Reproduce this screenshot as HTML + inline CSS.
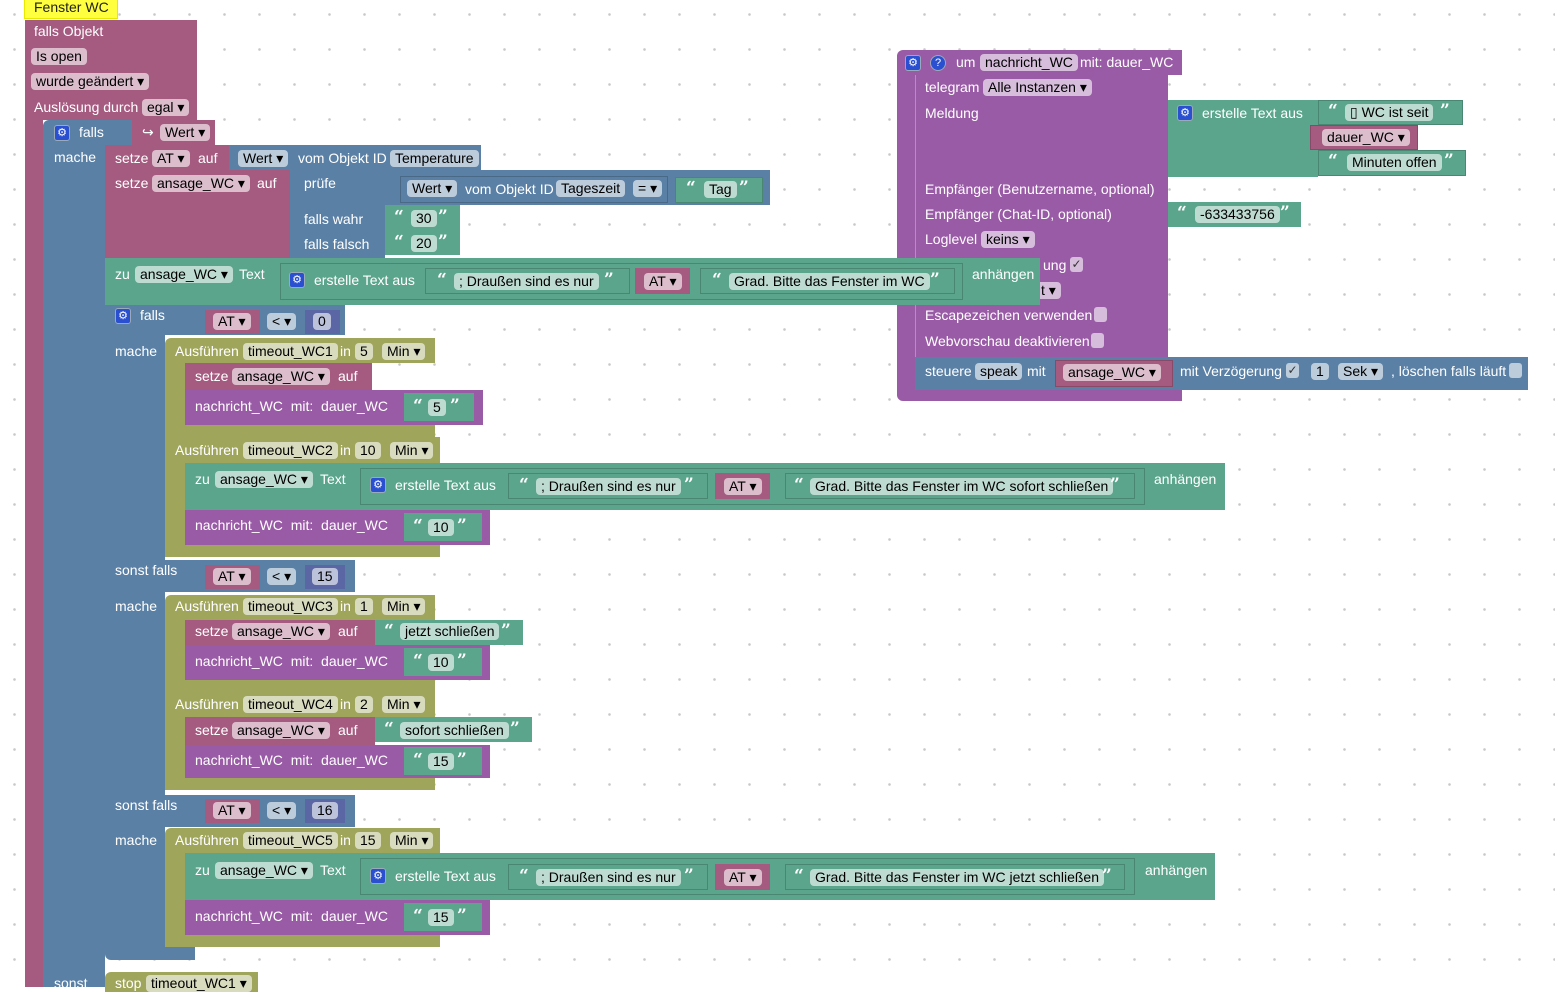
<!DOCTYPE html>
<html><head><meta charset="utf-8"><style>
body{margin:0;width:1555px;height:987px;overflow:hidden;background:#fff;background-image:radial-gradient(circle,#c8c8c8 1px,transparent 1.6px);background-size:35px 35px;background-position:-3px -3px;font-family:"Liberation Sans",sans-serif;position:relative}
.b{position:absolute}
.P{background:#a55b80}.B{background:#5b80a5}.G{background:#5ba58c}.O{background:#a0a55c}.V{background:#995ba5}.N{background:#5b67a5}
.in{box-shadow:inset 0 0 0 1px rgba(0,0,0,.18)}
.t{position:absolute;color:#fff;font-size:14px;line-height:18px;white-space:nowrap}
.f{position:absolute;color:#000;font-size:14px;line-height:17px;height:17px;padding:0 5px;border-radius:4px;white-space:nowrap;background:rgba(255,255,255,.6)}
.q{position:absolute;color:#fff;font-size:17px;font-weight:bold;line-height:18px;font-family:"DejaVu Serif",serif}
.gear{position:absolute;width:14px;height:14px;border-radius:3px;background:#2a4fd0;color:#fff;font-size:11px;line-height:14px;text-align:center;border:1px solid #9ab}
.cb{position:absolute;width:13px;height:15px;border-radius:3px;background:rgba(255,255,255,.6);color:#333;font-size:12px;line-height:15px;text-align:center}
</style></head><body>

<!-- Procedure -->
<div class="b V" style="left:897px;top:50px;width:285px;height:25px;border-radius:6px 0 0 0"></div>
<div class="b V" style="left:897px;top:75px;width:18px;height:325px;border-radius:0 0 0 6px"></div>
<div class="b V" style="left:897px;top:390px;width:285px;height:11px;border-radius:0 0 0 6px"></div>
<span class="gear" style="left:905px;top:55px">⚙</span>
<span class="gear" style="left:930px;top:55px;border-radius:50%">?</span>
<span class="t" style="left:956px;top:53px">um</span>
<span class="f" style="left:980px;top:54px">nachricht_WC</span>
<span class="t" style="left:1080px;top:53px">mit: dauer_WC</span>
<div class="b V" style="left:915px;top:75px;width:253px;height:285px;box-shadow:inset 1px 0 0 rgba(255,255,255,.3)"></div>
<span class="t" style="left:925px;top:78px">telegram</span>
<span class="f" style="left:983px;top:79px">Alle Instanzen ▾</span>
<span class="t" style="left:925px;top:104px">Meldung</span>
<span class="t" style="left:925px;top:180px">Empfänger (Benutzername, optional)</span>
<span class="t" style="left:925px;top:205px">Empfänger (Chat-ID, optional)</span>
<span class="t" style="left:925px;top:230px">Loglevel</span>
<span class="f" style="left:981px;top:231px">keins ▾</span>
<span class="t" style="left:1043px;top:256px">ung</span><span class="cb" style="left:1070px;top:257px">✓</span>
<span class="f" style="left:1036px;top:282px">t ▾</span>
<span class="t" style="left:925px;top:306px">Escapezeichen verwenden</span><span class="cb" style="left:1094px;top:307px"></span>
<span class="t" style="left:925px;top:332px">Webvorschau deaktivieren</span><span class="cb" style="left:1091px;top:333px"></span>
<div class="b G" style="left:1168px;top:100px;width:150px;height:77px"></div>
<span class="gear" style="left:1177px;top:105px">⚙</span>
<span class="t" style="left:1202px;top:104px">erstelle Text aus</span>
<div class="b G in" style="left:1318px;top:100px;width:145px;height:25px"></div>
<span class="q" style="left:1328px;top:102px">“</span><span class="f" style="left:1345px;top:104px">▯ WC ist seit</span><span class="q" style="left:1440px;top:102px">”</span>
<div class="b P in" style="left:1310px;top:125px;width:108px;height:25px"></div>
<span class="f" style="left:1322px;top:129px">dauer_WC ▾</span>
<div class="b G in" style="left:1318px;top:150px;width:148px;height:26px"></div>
<span class="q" style="left:1328px;top:152px">“</span><span class="f" style="left:1347px;top:154px">Minuten offen</span><span class="q" style="left:1444px;top:152px">”</span>
<div class="b G" style="left:1168px;top:202px;width:133px;height:25px"></div>
<span class="q" style="left:1177px;top:204px">“</span><span class="f" style="left:1195px;top:206px">-633433756</span><span class="q" style="left:1280px;top:204px">”</span>
<div class="b B" style="left:915px;top:357px;width:613px;height:33px"></div>
<span class="t" style="left:925px;top:362px">steuere</span>
<span class="f" style="left:975px;top:363px">speak</span>
<span class="t" style="left:1027px;top:362px">mit</span>
<div class="b P in" style="left:1055px;top:360px;width:118px;height:27px"></div>
<span class="f" style="left:1063px;top:364px">ansage_WC ▾</span>
<span class="t" style="left:1180px;top:362px">mit Verzögerung</span><span class="cb" style="left:1286px;top:363px">✓</span>
<span class="f" style="left:1311px;top:363px">1</span>
<span class="f" style="left:1338px;top:363px">Sek ▾</span>
<span class="t" style="left:1391px;top:362px">, löschen falls läuft</span><span class="cb" style="left:1509px;top:363px"></span>

<!-- Event block -->
<div class="b" style="left:25px;top:0;width:92px;height:18px;background:#ffff40;box-shadow:0 0 0 1px #e8e800"></div>
<span class="t" style="left:34px;top:-2px;color:#222">Fenster WC</span>
<div class="b P" style="left:25px;top:20px;width:172px;height:100px"></div>
<div class="b P" style="left:25px;top:120px;width:18px;height:867px"></div>
<span class="t" style="left:34px;top:22px">falls Objekt</span>
<span class="f" style="left:31px;top:48px">Is open</span>
<span class="f" style="left:31px;top:73px">wurde geändert ▾</span>
<span class="t" style="left:34px;top:98px">Auslösung durch</span>
<span class="f" style="left:142px;top:99px">egal ▾</span>

<!-- Outer if -->
<div class="b B" style="left:43px;top:120px;width:89px;height:25px;border-radius:6px 0 0 0"></div>
<div class="b B" style="left:43px;top:145px;width:62px;height:842px"></div>
<span class="gear" style="left:54px;top:125px">⚙</span>
<span class="t" style="left:79px;top:123px">falls</span>
<div class="b P" style="left:132px;top:120px;width:83px;height:25px"></div>
<span class="t" style="left:142px;top:123px">↪</span>
<span class="f" style="left:160px;top:124px">Wert ▾</span>
<span class="t" style="left:54px;top:148px">mache</span>

<div class="b P" style="left:105px;top:145px;width:130px;height:25px"></div>
<span class="t" style="left:115px;top:149px">setze</span><span class="f" style="left:152px;top:150px">AT ▾</span><span class="t" style="left:198px;top:149px">auf</span>
<div class="b B" style="left:229px;top:145px;width:252px;height:25px"></div>
<span class="f" style="left:238px;top:150px">Wert ▾</span><span class="t" style="left:298px;top:149px">vom Objekt ID</span><span class="f" style="left:390px;top:150px">Temperature</span>

<div class="b P" style="left:105px;top:170px;width:185px;height:88px"></div>
<span class="t" style="left:115px;top:174px">setze</span><span class="f" style="left:152px;top:175px">ansage_WC ▾</span><span class="t" style="left:257px;top:174px">auf</span>
<div class="b B" style="left:290px;top:170px;width:95px;height:88px"></div>
<span class="t" style="left:304px;top:174px">prüfe</span>
<span class="t" style="left:304px;top:210px">falls wahr</span>
<span class="t" style="left:304px;top:235px">falls falsch</span>
<div class="b B" style="left:385px;top:170px;width:385px;height:35px"></div>
<div class="b B in" style="left:400px;top:176px;width:268px;height:27px"></div>
<span class="f" style="left:407px;top:180px">Wert ▾</span><span class="t" style="left:465px;top:180px">vom Objekt ID</span><span class="f" style="left:556px;top:180px">Tageszeit</span><span class="f" style="left:633px;top:180px">= ▾</span>
<div class="b G in" style="left:675px;top:177px;width:88px;height:26px"></div>
<span class="q" style="left:686px;top:179px">“</span><span class="f" style="left:704px;top:181px">Tag</span><span class="q" style="left:739px;top:179px">”</span>
<div class="b G" style="left:385px;top:205px;width:75px;height:25px"></div>
<span class="q" style="left:394px;top:208px">“</span><span class="f" style="left:411px;top:210px">30</span><span class="q" style="left:438px;top:208px">”</span>
<div class="b G" style="left:385px;top:230px;width:75px;height:25px"></div>
<span class="q" style="left:394px;top:233px">“</span><span class="f" style="left:411px;top:235px">20</span><span class="q" style="left:438px;top:233px">”</span>

<div class="b G" style="left:105px;top:258px;width:935px;height:47px"></div>
<span class="t" style="left:115px;top:265px">zu</span><span class="f" style="left:135px;top:266px">ansage_WC ▾</span><span class="t" style="left:239px;top:265px">Text</span>
<div class="b G in" style="left:280px;top:263px;width:683px;height:37px"></div>
<span class="gear" style="left:289px;top:272px">⚙</span><span class="t" style="left:314px;top:271px">erstelle Text aus</span>
<div class="b G in" style="left:425px;top:268px;width:205px;height:26px"></div>
<span class="q" style="left:437px;top:271px">“</span><span class="f" style="left:454px;top:273px">; Draußen sind es nur</span><span class="q" style="left:604px;top:271px">”</span>
<div class="b P" style="left:635px;top:268px;width:55px;height:26px"></div><span class="f" style="left:644px;top:273px">AT ▾</span>
<div class="b G in" style="left:700px;top:268px;width:255px;height:26px"></div>
<span class="q" style="left:712px;top:271px">“</span><span class="f" style="left:729px;top:273px">Grad. Bitte das Fenster im WC</span><span class="q" style="left:930px;top:271px">”</span>
<span class="t" style="left:972px;top:265px">anhängen</span>

<!-- nested if -->
<div class="b B" style="left:105px;top:305px;width:240px;height:30px"></div>
<div class="b B" style="left:105px;top:335px;width:60px;height:612px"></div>
<div class="b B" style="left:105px;top:947px;width:90px;height:13px;border-radius:0 0 0 6px"></div>
<span class="gear" style="left:115px;top:308px">⚙</span><span class="t" style="left:140px;top:306px">falls</span>
<div class="b P" style="left:205px;top:310px;width:55px;height:24px"></div><span class="f" style="left:213px;top:313px">AT ▾</span>
<span class="f" style="left:267px;top:313px">&lt; ▾</span>
<div class="b N" style="left:305px;top:310px;width:35px;height:24px"></div><span class="f" style="left:313px;top:313px">0</span>
<span class="t" style="left:115px;top:342px">mache</span>

<!-- Ausf1 -->
<div class="b O" style="left:165px;top:338px;width:270px;height:25px;border-radius:6px 0 0 0"></div>
<div class="b O" style="left:165px;top:363px;width:20px;height:62px"></div>
<div class="b O" style="left:165px;top:425px;width:270px;height:13px"></div>
<span class="t" style="left:175px;top:342px">Ausführen</span><span class="f" style="left:243px;top:343px">timeout_WC1</span><span class="t" style="left:340px;top:342px">in</span><span class="f" style="left:355px;top:343px">5</span><span class="f" style="left:382px;top:343px">Min ▾</span>
<div class="b P" style="left:185px;top:363px;width:187px;height:27px"></div>
<span class="t" style="left:195px;top:367px">setze</span><span class="f" style="left:232px;top:368px">ansage_WC ▾</span><span class="t" style="left:338px;top:367px">auf</span>
<div class="b V" style="left:185px;top:390px;width:298px;height:35px"></div>
<span class="t" style="left:195px;top:397px">nachricht_WC&nbsp; mit:&nbsp; dauer_WC</span>
<div class="b G" style="left:404px;top:393px;width:70px;height:28px"></div>
<span class="q" style="left:413px;top:397px">“</span><span class="f" style="left:428px;top:399px">5</span><span class="q" style="left:450px;top:397px">”</span>

<!-- Ausf2 -->
<div class="b O" style="left:165px;top:437px;width:275px;height:26px"></div>
<div class="b O" style="left:165px;top:463px;width:20px;height:82px"></div>
<div class="b O" style="left:165px;top:545px;width:275px;height:12px"></div>
<span class="t" style="left:175px;top:441px">Ausführen</span><span class="f" style="left:243px;top:442px">timeout_WC2</span><span class="t" style="left:340px;top:441px">in</span><span class="f" style="left:355px;top:442px">10</span><span class="f" style="left:390px;top:442px">Min ▾</span>
<div class="b G" style="left:185px;top:463px;width:1040px;height:47px"></div>
<span class="t" style="left:195px;top:470px">zu</span><span class="f" style="left:215px;top:471px">ansage_WC ▾</span><span class="t" style="left:320px;top:470px">Text</span>
<div class="b G in" style="left:360px;top:468px;width:785px;height:37px"></div>
<span class="gear" style="left:370px;top:477px">⚙</span><span class="t" style="left:395px;top:476px">erstelle Text aus</span>
<div class="b G in" style="left:508px;top:473px;width:200px;height:26px"></div>
<span class="q" style="left:519px;top:476px">“</span><span class="f" style="left:536px;top:478px">; Draußen sind es nur</span><span class="q" style="left:684px;top:476px">”</span>
<div class="b P" style="left:715px;top:473px;width:55px;height:26px"></div><span class="f" style="left:724px;top:478px">AT ▾</span>
<div class="b G in" style="left:785px;top:473px;width:350px;height:26px"></div>
<span class="q" style="left:794px;top:476px">“</span><span class="f" style="left:810px;top:478px">Grad. Bitte das Fenster im WC sofort schließen</span><span class="q" style="left:1110px;top:476px">”</span>
<span class="t" style="left:1154px;top:470px">anhängen</span>
<div class="b V" style="left:185px;top:510px;width:305px;height:35px"></div>
<span class="t" style="left:195px;top:516px">nachricht_WC&nbsp; mit:&nbsp; dauer_WC</span>
<div class="b G" style="left:404px;top:513px;width:78px;height:28px"></div>
<span class="q" style="left:413px;top:517px">“</span><span class="f" style="left:428px;top:519px">10</span><span class="q" style="left:457px;top:517px">”</span>

<!-- sonst falls 1 -->
<div class="b B" style="left:105px;top:560px;width:250px;height:32px"></div>
<span class="t" style="left:115px;top:561px">sonst falls</span>
<div class="b P" style="left:205px;top:565px;width:55px;height:24px"></div><span class="f" style="left:213px;top:568px">AT ▾</span>
<span class="f" style="left:267px;top:568px">&lt; ▾</span>
<div class="b N" style="left:305px;top:565px;width:40px;height:24px"></div><span class="f" style="left:312px;top:568px">15</span>
<span class="t" style="left:115px;top:597px">mache</span>

<!-- Ausf3 -->
<div class="b O" style="left:165px;top:595px;width:270px;height:25px;border-radius:6px 0 0 0"></div>
<div class="b O" style="left:165px;top:620px;width:20px;height:60px"></div>
<div class="b O" style="left:165px;top:680px;width:270px;height:12px"></div>
<span class="t" style="left:175px;top:597px">Ausführen</span><span class="f" style="left:243px;top:598px">timeout_WC3</span><span class="t" style="left:340px;top:597px">in</span><span class="f" style="left:355px;top:598px">1</span><span class="f" style="left:382px;top:598px">Min ▾</span>
<div class="b P" style="left:185px;top:620px;width:190px;height:25px"></div>
<span class="t" style="left:195px;top:622px">setze</span><span class="f" style="left:232px;top:623px">ansage_WC ▾</span><span class="t" style="left:338px;top:622px">auf</span>
<div class="b G" style="left:375px;top:620px;width:148px;height:25px"></div>
<span class="q" style="left:384px;top:622px">“</span><span class="f" style="left:400px;top:623px">jetzt schließen</span><span class="q" style="left:501px;top:622px">”</span>
<div class="b V" style="left:185px;top:645px;width:305px;height:35px"></div>
<span class="t" style="left:195px;top:652px">nachricht_WC&nbsp; mit:&nbsp; dauer_WC</span>
<div class="b G" style="left:404px;top:648px;width:78px;height:28px"></div>
<span class="q" style="left:413px;top:652px">“</span><span class="f" style="left:428px;top:654px">10</span><span class="q" style="left:457px;top:652px">”</span>

<!-- Ausf4 -->
<div class="b O" style="left:165px;top:692px;width:270px;height:25px"></div>
<div class="b O" style="left:165px;top:717px;width:20px;height:61px"></div>
<div class="b O" style="left:165px;top:778px;width:270px;height:12px"></div>
<span class="t" style="left:175px;top:695px">Ausführen</span><span class="f" style="left:243px;top:696px">timeout_WC4</span><span class="t" style="left:340px;top:695px">in</span><span class="f" style="left:355px;top:696px">2</span><span class="f" style="left:382px;top:696px">Min ▾</span>
<div class="b P" style="left:185px;top:717px;width:190px;height:28px"></div>
<span class="t" style="left:195px;top:721px">setze</span><span class="f" style="left:232px;top:722px">ansage_WC ▾</span><span class="t" style="left:338px;top:721px">auf</span>
<div class="b G" style="left:375px;top:717px;width:157px;height:25px"></div>
<span class="q" style="left:384px;top:720px">“</span><span class="f" style="left:400px;top:722px">sofort schließen</span><span class="q" style="left:510px;top:720px">”</span>
<div class="b V" style="left:185px;top:745px;width:305px;height:33px"></div>
<span class="t" style="left:195px;top:751px">nachricht_WC&nbsp; mit:&nbsp; dauer_WC</span>
<div class="b G" style="left:404px;top:747px;width:78px;height:28px"></div>
<span class="q" style="left:413px;top:751px">“</span><span class="f" style="left:428px;top:753px">15</span><span class="q" style="left:457px;top:751px">”</span>

<!-- sonst falls 2 -->
<div class="b B" style="left:105px;top:795px;width:250px;height:32px"></div>
<span class="t" style="left:115px;top:796px">sonst falls</span>
<div class="b P" style="left:205px;top:799px;width:55px;height:24px"></div><span class="f" style="left:213px;top:802px">AT ▾</span>
<span class="f" style="left:267px;top:802px">&lt; ▾</span>
<div class="b N" style="left:305px;top:799px;width:40px;height:24px"></div><span class="f" style="left:312px;top:802px">16</span>
<span class="t" style="left:115px;top:831px">mache</span>

<!-- Ausf5 -->
<div class="b O" style="left:165px;top:828px;width:275px;height:25px;border-radius:6px 0 0 0"></div>
<div class="b O" style="left:165px;top:853px;width:20px;height:82px"></div>
<div class="b O" style="left:165px;top:935px;width:275px;height:12px"></div>
<span class="t" style="left:175px;top:831px">Ausführen</span><span class="f" style="left:243px;top:832px">timeout_WC5</span><span class="t" style="left:340px;top:831px">in</span><span class="f" style="left:355px;top:832px">15</span><span class="f" style="left:390px;top:832px">Min ▾</span>
<div class="b G" style="left:185px;top:853px;width:1030px;height:47px"></div>
<span class="t" style="left:195px;top:861px">zu</span><span class="f" style="left:215px;top:862px">ansage_WC ▾</span><span class="t" style="left:320px;top:861px">Text</span>
<div class="b G in" style="left:360px;top:858px;width:775px;height:37px"></div>
<span class="gear" style="left:370px;top:868px">⚙</span><span class="t" style="left:395px;top:867px">erstelle Text aus</span>
<div class="b G in" style="left:508px;top:864px;width:200px;height:26px"></div>
<span class="q" style="left:519px;top:867px">“</span><span class="f" style="left:536px;top:869px">; Draußen sind es nur</span><span class="q" style="left:684px;top:867px">”</span>
<div class="b P" style="left:715px;top:864px;width:55px;height:26px"></div><span class="f" style="left:724px;top:869px">AT ▾</span>
<div class="b G in" style="left:785px;top:864px;width:340px;height:26px"></div>
<span class="q" style="left:794px;top:867px">“</span><span class="f" style="left:810px;top:869px">Grad. Bitte das Fenster im WC jetzt schließen</span><span class="q" style="left:1102px;top:867px">”</span>
<span class="t" style="left:1145px;top:861px">anhängen</span>
<div class="b V" style="left:185px;top:900px;width:305px;height:35px"></div>
<span class="t" style="left:195px;top:907px">nachricht_WC&nbsp; mit:&nbsp; dauer_WC</span>
<div class="b G" style="left:404px;top:903px;width:78px;height:28px"></div>
<span class="q" style="left:413px;top:907px">“</span><span class="f" style="left:428px;top:909px">15</span><span class="q" style="left:457px;top:907px">”</span>

<!-- sonst -->
<span class="t" style="left:54px;top:974px">sonst</span>
<div class="b O" style="left:105px;top:972px;width:153px;height:20px;border-radius:6px 0 0 0"></div>
<span class="t" style="left:115px;top:974px">stop</span><span class="f" style="left:146px;top:975px">timeout_WC1 ▾</span>

</body></html>
